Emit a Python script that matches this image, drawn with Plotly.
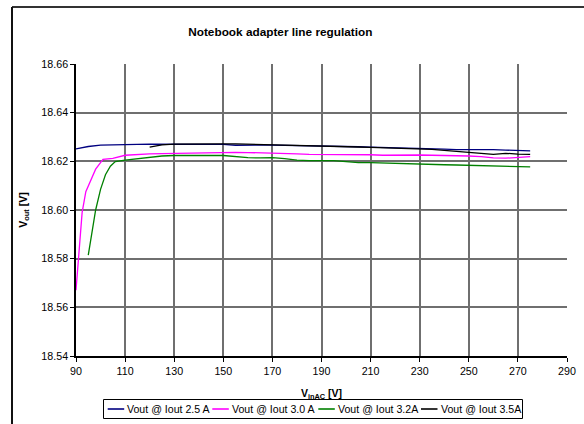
import plotly.graph_objects as go

x_25 = [90, 95, 100, 105, 110, 115, 120, 125, 130, 135, 140, 145, 150, 155, 160, 165, 170, 175, 180, 185,
        190, 195, 200, 205, 210, 215, 220, 225, 230, 235, 240, 245, 250, 255, 260, 265, 270, 275]
v_25 = [18.6251, 18.6261, 18.6267, 18.6269, 18.6270, 18.6270, 18.6271, 18.6271, 18.6271, 18.6271, 18.6271,
        18.6270, 18.6270, 18.6266, 18.6265, 18.6267, 18.6267, 18.6266, 18.6266, 18.6266, 18.6263, 18.6262,
        18.6261, 18.6260, 18.6258, 18.6257, 18.6256, 18.6253, 18.6252, 18.6252, 18.6250, 18.6248, 18.6249,
        18.6247, 18.6248, 18.6246, 18.6245, 18.6243]

x_30 = [90, 91, 92.5, 94, 96, 98, 101, 105, 110, 115, 120, 125, 130, 135, 140, 145, 150, 155, 160, 165, 170,
        175, 180, 185, 190, 195, 200, 205, 210, 215, 220, 225, 230, 235, 240, 245, 250, 255, 260, 265, 270, 275]
v_30 = [18.5670, 18.5790, 18.5990, 18.6075, 18.6125, 18.6168, 18.6208, 18.6212, 18.6225, 18.6229, 18.6231,
        18.6232, 18.6233, 18.6234, 18.6235, 18.6235, 18.6236, 18.6237, 18.6236, 18.6235, 18.6236, 18.6234,
        18.6231, 18.6229, 18.6229, 18.6227, 18.6228, 18.6226, 18.6227, 18.6225, 18.6226, 18.6225, 18.6226,
        18.6225, 18.6225, 18.6223, 18.6222, 18.6219, 18.6214, 18.6213, 18.6216, 18.6219]

x_32 = [95, 98, 100, 102, 104, 106, 110, 115, 120, 125, 130, 135, 140, 145, 150, 155, 160, 165, 170, 175, 180,
        185, 190, 195, 200, 205, 210, 215, 220, 225, 230, 235, 240, 245, 250, 255, 260, 265, 270, 275]
v_32 = [18.5815, 18.6000, 18.6085, 18.6145, 18.6180, 18.6199, 18.6205, 18.6211, 18.6216, 18.6222, 18.6224,
        18.6225, 18.6225, 18.6224, 18.6224, 18.6219, 18.6215, 18.6214, 18.6215, 18.6211, 18.6205, 18.6203,
        18.6203, 18.6203, 18.6199, 18.6195, 18.6195, 18.6193, 18.6191, 18.6190, 18.6189, 18.6186, 18.6186,
        18.6185, 18.6184, 18.6181, 18.6181, 18.6180, 18.6178, 18.6177]

x_35 = [120, 125, 130, 135, 140, 145, 150, 155, 160, 165, 170, 175, 180, 185, 190, 195, 200, 205, 210, 215,
        220, 225, 230, 235, 240, 245, 250, 255, 260, 265, 270, 275]
v_35 = [18.6258, 18.6268, 18.6271, 18.6272, 18.6272, 18.6273, 18.6272, 18.6272, 18.6271, 18.6270, 18.6269,
        18.6268, 18.6267, 18.6266, 18.6264, 18.6262, 18.6260, 18.6259, 18.6257, 18.6256, 18.6255, 18.6254,
        18.6252, 18.6249, 18.6245, 18.6242, 18.6237, 18.6233, 18.6229, 18.6233, 18.6230, 18.6229]

names = ["Vout @ Iout 2.5 A", "Vout @ Iout 3.0 A", "Vout @ Iout 3.2A", "Vout @ Iout 3.5A"]
colors = ["#000080", "#FF00FF", "#008000", "#000000"]
xs_all = [x_25, x_30, x_32, x_35]
vs_all = [v_25, v_30, v_32, v_35]

x_ticks = list(range(90, 291, 20))
y_ticks = [18.54, 18.56, 18.58, 18.60, 18.62, 18.64, 18.66]
y_tick_text = ["18.54", "18.56", "18.58", "18.60", "18.62", "18.64", "18.66"]

FONT = "Liberation Sans, Arial, sans-serif"

# plot-area geometry in pixels (for converting legend/frame positions to paper coords)
L, R, T, B = 76, 567, 64, 356
def px(x):
    return (x - L) / (R - L)
def py(y):
    return (B - y) / (B - T)

fig = go.Figure()
for name, xs, ys, col in zip(names, xs_all, vs_all, colors):
    fig.add_trace(go.Scatter(x=xs, y=ys, name=name, mode="lines",
                             line=dict(color=col, width=1.3), showlegend=False))

fig.update_layout(
    width=584, height=424,
    margin=dict(l=L, r=584 - R, t=T, b=424 - B, autoexpand=False),
    paper_bgcolor="white", plot_bgcolor="white",
    font=dict(family=FONT, size=10.7, color="black"),
    title=dict(text="<b>Notebook adapter line regulation</b>", x=0.48, xanchor="center",
               y=1 - 32 / 424, yanchor="middle", font=dict(size=11.8, family=FONT)),
    showlegend=False,
)
fig.update_xaxes(range=[90, 290], tickvals=x_ticks, showgrid=True, gridcolor="#6f6f6f", gridwidth=1.5,
                 showline=True, linecolor="black", linewidth=1.5, ticks="outside", ticklen=4,
                 tickcolor="black", zeroline=False, automargin=False,
                 title=dict(text="<b>V<sub>inAC</sub> [V]</b>", standoff=14,
                            font=dict(size=10.5)))
fig.update_yaxes(range=[18.54, 18.66], tickvals=y_ticks, ticktext=y_tick_text, showgrid=True,
                 gridcolor="#6f6f6f", gridwidth=1.5, showline=True, linecolor="black", linewidth=1.5,
                 ticks="outside", ticklen=4, tickcolor="black", zeroline=False, automargin=False,
                 title=dict(text="<b>V<sub>out</sub> [V]</b>", standoff=12, font=dict(size=10.5)))

# manual legend box (matches the reference layout)
fig.add_shape(type="rect", xref="paper", yref="paper", x0=px(103.5), x1=px(522.5),
              y0=py(418.5), y1=py(399.5), line=dict(color="black", width=1), fillcolor="white")
leg_line_x = [107.7, 212.3, 318.3, 421.0]
leg_y = 409
for lx, name, col in zip(leg_line_x, names, colors):
    fig.add_shape(type="line", xref="paper", yref="paper", x0=px(lx), x1=px(lx + 16.5),
                  y0=py(leg_y), y1=py(leg_y), line=dict(color=col, width=1.6))
    fig.add_annotation(text=name, xref="paper", yref="paper", x=px(lx + 17.5), y=py(leg_y),
                       xanchor="left", yanchor="middle", showarrow=False,
                       font=dict(size=10.6, family=FONT, color="black"))

# outer frame lines (left and top edges visible)
fig.add_shape(type="line", xref="paper", yref="paper", x0=px(12), x1=1.2,
              y0=py(7), y1=py(7), line=dict(color="#333333", width=2))
fig.add_shape(type="line", xref="paper", yref="paper", x0=px(12), x1=px(12),
              y0=py(7), y1=-0.5, line=dict(color="#111111", width=2))

fig.write_html("out.html")
